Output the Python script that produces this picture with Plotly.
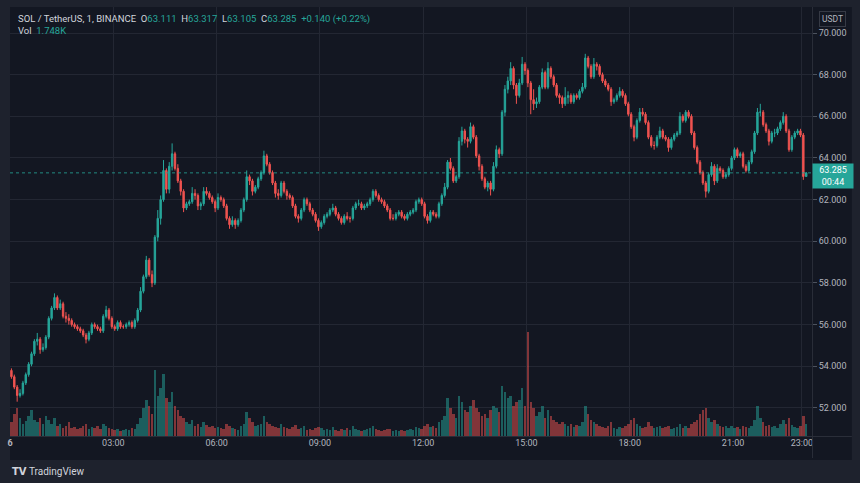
import plotly.graph_objects as go

# ---------------- data (5-minute buckets) ----------------
first_open = 53.8
closes = [
    53.5, 53.0, 52.6, 52.7, 53.2, 53.6, 54.1, 54.6, 55.2, 55.3, 54.8, 54.9,
    55.4, 56.3, 56.8, 57.3, 56.8, 57.0, 56.4, 56.3, 56.2, 56.0, 55.9, 55.8,
    55.7, 55.5, 55.3, 55.6, 56.0, 55.9, 55.8, 55.7, 56.4, 56.7, 56.3, 55.9,
    55.8, 56.1, 55.9, 55.9, 56.0, 56.1, 55.9, 56.2, 56.7, 57.6, 58.3, 59.1,
    58.4, 58.0, 60.2, 61.1, 62.0, 63.4, 62.5, 63.6, 64.2, 63.5, 62.9, 62.4,
    61.6, 61.8, 61.9, 62.3, 62.2, 61.7, 61.8, 62.4, 62.3, 62.1, 61.9, 61.6,
    62.1, 62.0, 61.7, 61.1, 60.8, 61.0, 60.8, 61.0, 61.5, 62.0, 63.1, 62.9,
    62.4, 62.6, 63.0, 63.3, 64.1, 63.7, 63.3, 62.8, 62.3, 62.2, 62.8, 62.4,
    62.2, 62.1, 61.7, 61.2, 61.1, 61.5, 62.0, 61.8, 61.5, 61.3, 61.0, 60.7,
    60.9, 61.2, 61.3, 61.5, 61.6, 61.3, 61.1, 60.9, 61.2, 61.1, 61.1, 61.6,
    61.8, 61.8, 61.6, 61.7, 61.8, 62.0, 62.4, 62.2, 62.0, 61.9, 61.7, 61.5,
    61.1, 61.1, 61.3, 61.4, 61.2, 61.1, 61.3, 61.4, 61.5, 61.9, 62.0, 61.8,
    61.2, 61.0, 61.4, 61.3, 61.2, 61.8, 62.2, 62.6, 63.8, 63.5, 62.9, 63.1,
    64.8, 65.3, 64.9, 64.8, 65.5, 65.0, 64.1, 63.6, 63.0, 62.6, 62.8, 62.5,
    63.6, 64.4, 64.2, 66.2, 67.3, 67.7, 68.3, 67.5, 67.0, 67.6, 68.5, 68.2,
    67.6, 66.8, 66.6, 66.7, 67.4, 68.1, 67.4, 68.3, 67.9, 67.5, 67.0, 66.9,
    66.6, 66.9, 67.0, 66.7, 67.0, 66.9, 67.2, 67.4, 68.8, 68.4, 67.9, 68.5,
    68.4, 68.0, 67.7, 67.5, 67.3, 66.7, 66.8, 67.0, 67.2, 67.0, 66.6, 66.1,
    65.5, 65.0, 65.8, 66.2, 66.1, 65.7, 65.0, 64.6, 64.6, 65.0, 65.3, 65.0,
    64.9, 64.5, 64.9, 65.1, 65.2, 66.0, 65.8, 66.2, 66.0, 65.2, 64.5, 63.8,
    63.3, 62.8, 62.4, 63.2, 63.6, 62.9, 63.5, 63.4, 63.1, 63.2, 63.5, 64.0,
    64.4, 64.1, 64.2, 63.6, 63.4, 63.8, 64.3, 65.2, 66.2, 66.2, 65.6, 65.3,
    64.8, 65.2, 65.2, 65.4, 65.7, 66.0, 65.3, 64.4, 65.0, 65.2, 65.3, 65.1,
    63.111, 63.285,
]
highs = [
    53.9, 53.6, 53.1, 52.9, 53.3, 53.7, 54.2, 54.7, 55.3, 55.6, 55.4, 55.1,
    55.5, 56.4, 56.9, 57.5, 57.4, 57.2, 57.1, 56.6, 56.5, 56.3, 56.1, 56.0,
    55.9, 55.8, 55.6, 55.7, 56.1, 56.1, 56.0, 55.9, 56.5, 56.9, 56.8, 56.4,
    56.0, 56.2, 56.2, 56.0, 56.1, 56.2, 56.2, 56.3, 56.8, 57.8, 58.4, 59.3,
    59.2, 58.6, 60.3, 61.5, 62.2, 63.9, 63.5, 63.8, 64.7, 64.3, 63.7, 63.0,
    62.5, 61.9, 62.0, 62.6, 62.5, 62.3, 61.9, 62.6, 62.6, 62.4, 62.2, 62.0,
    62.3, 62.2, 62.1, 61.8, 61.2, 61.2, 61.1, 61.1, 61.6, 62.1, 63.4, 63.2,
    63.0, 62.7, 63.1, 63.4, 64.35, 64.2, 63.8, 63.4, 62.9, 62.5, 62.9, 62.9,
    62.5, 62.3, 62.2, 61.8, 61.3, 61.6, 62.1, 62.1, 61.9, 61.6, 61.4, 61.1,
    61.0, 61.3, 61.4, 61.6, 61.8, 61.7, 61.4, 61.2, 61.3, 61.4, 61.2, 61.7,
    61.9, 62.0, 61.9, 61.8, 61.9, 62.1, 62.5, 62.5, 62.3, 62.1, 62.0, 61.8,
    61.6, 61.3, 61.4, 61.5, 61.5, 61.3, 61.4, 61.5, 61.6, 62.0, 62.1, 62.1,
    61.9, 61.3, 61.5, 61.5, 61.4, 61.9, 62.3, 62.8, 63.9, 64.0, 63.6, 63.2,
    65.0, 65.5, 65.4, 65.0, 65.7, 65.6, 65.1, 64.2, 63.7, 63.1, 62.9, 62.9,
    63.8, 64.6, 64.5, 66.3, 67.5, 67.9, 68.6, 68.4, 67.6, 67.8, 68.85, 68.6,
    68.3, 67.7, 67.3, 66.9, 67.5, 68.3, 68.2, 68.6, 68.4, 68.0, 67.6, 67.1,
    67.0, 67.4, 67.2, 67.1, 67.1, 67.1, 67.3, 67.6, 69.0, 68.9, 68.5, 68.8,
    68.6, 68.5, 68.1, 67.8, 67.6, 67.4, 66.9, 67.1, 67.4, 67.3, 67.1, 66.7,
    66.2, 65.6, 65.9, 66.4, 66.4, 66.2, 65.8, 65.1, 64.8, 65.1, 65.5, 65.4,
    65.1, 65.0, 65.0, 65.2, 65.3, 66.2, 66.1, 66.3, 66.3, 66.1, 65.3, 64.6,
    63.9, 63.4, 62.9, 63.3, 63.8, 63.7, 63.7, 63.6, 63.5, 63.3, 63.6, 64.1,
    64.5, 64.5, 64.3, 64.3, 63.7, 63.9, 64.4, 65.3, 66.4, 66.6, 66.3, 65.7,
    65.4, 65.3, 65.4, 65.5, 65.8, 66.2, 66.1, 65.4, 65.1, 65.3, 65.4, 65.4,
    65.2, 63.317,
]
lows = [
    53.4, 52.9, 52.3, 52.5, 52.6, 53.1, 53.5, 54.0, 54.5, 55.0, 54.6, 54.7,
    54.8, 55.3, 56.2, 56.7, 56.7, 56.7, 56.3, 56.1, 56.0, 55.9, 55.8, 55.7,
    55.6, 55.4, 55.1, 55.2, 55.5, 55.8, 55.7, 55.6, 55.6, 56.3, 56.2, 55.8,
    55.7, 55.7, 55.8, 55.8, 55.8, 55.9, 55.8, 55.8, 56.1, 56.6, 57.5, 58.2,
    58.3, 57.8, 57.9, 60.0, 60.8, 61.9, 62.3, 62.3, 63.4, 63.4, 62.8, 62.2,
    61.4, 61.5, 61.7, 61.8, 62.0, 61.5, 61.5, 61.7, 62.2, 62.0, 61.8, 61.4,
    61.5, 61.9, 61.6, 61.0, 60.6, 60.7, 60.6, 60.7, 60.9, 61.4, 61.9, 62.7,
    62.2, 62.3, 62.5, 62.9, 63.2, 63.6, 63.2, 62.7, 62.1, 62.0, 62.1, 62.3,
    62.0, 62.0, 61.6, 61.1, 60.9, 61.0, 61.4, 61.7, 61.4, 61.2, 60.9, 60.5,
    60.6, 60.8, 61.1, 61.2, 61.4, 61.2, 61.0, 60.8, 60.8, 61.0, 60.9, 61.0,
    61.5, 61.7, 61.5, 61.5, 61.6, 61.7, 61.9, 62.1, 61.9, 61.8, 61.6, 61.4,
    61.0, 61.0, 61.0, 61.2, 61.1, 61.0, 61.0, 61.2, 61.3, 61.4, 61.8, 61.7,
    61.1, 60.85, 60.9, 61.2, 61.1, 61.1, 61.7, 62.1, 62.5, 63.4, 62.8, 62.8,
    63.0, 64.6, 64.7, 64.5, 64.7, 64.9, 64.0, 63.4, 62.9, 62.5, 62.4, 62.2,
    62.4, 63.5, 64.0, 64.1, 66.0, 67.1, 67.5, 67.3, 66.6, 66.9, 67.5, 68.0,
    67.4, 66.1, 66.3, 66.4, 66.6, 67.3, 67.3, 67.3, 67.8, 67.4, 66.9, 66.6,
    66.4, 66.5, 66.6, 66.6, 66.6, 66.8, 66.8, 67.1, 67.3, 68.3, 67.8, 67.8,
    68.2, 67.9, 67.6, 67.4, 67.2, 66.5, 66.6, 66.7, 66.9, 66.9, 66.5, 66.0,
    65.4, 64.8, 64.9, 65.7, 66.0, 65.6, 64.9, 64.5, 64.4, 64.5, 64.9, 64.9,
    64.8, 64.3, 64.4, 64.8, 65.0, 65.1, 65.7, 65.7, 65.9, 65.1, 64.4, 63.7,
    63.2, 62.7, 62.1, 62.3, 63.1, 62.7, 62.8, 63.3, 63.0, 63.0, 63.1, 63.4,
    63.9, 64.0, 64.0, 63.5, 63.3, 63.3, 63.7, 64.2, 65.1, 66.0, 65.5, 65.2,
    64.6, 64.7, 65.0, 65.1, 65.3, 65.6, 65.2, 64.3, 64.3, 64.9, 65.1, 65.0,
    62.95, 63.105,
]
volumes = [
    14, 22, 28, 18, 12, 15, 20, 26, 16, 14, 18, 12,
    20, 16, 12, 18, 10, 12, 8, 10, 14, 8, 9, 7,
    8, 10, 12, 7, 9, 8, 10, 7, 12, 10, 8, 7,
    6, 7, 5, 6, 7, 6, 8, 7, 12, 18, 28, 36,
    30, 22, 66, 40, 48, 62, 38, 34, 44, 30, 26, 20,
    18, 14, 12, 16, 10, 12, 9, 14, 11, 9, 10, 8,
    9, 8, 7, 12, 10, 8, 7, 6, 10, 12, 24, 18,
    14, 10, 11, 12, 20, 14, 12, 10, 9, 8, 12, 9,
    8, 7, 9, 11, 7, 8, 10, 6, 7, 6, 8, 9,
    8, 6, 7, 6, 9, 6, 5, 7, 6, 8, 6, 10,
    7, 6, 5, 6, 7, 8, 10, 7, 6, 5, 6, 7,
    7, 5, 6, 5, 6, 5, 6, 7, 6, 9, 8, 7,
    10, 12, 9, 10, 8, 14, 16, 20, 38, 28, 22, 18,
    40, 34, 26, 24, 30, 36, 28, 24, 20, 22, 18, 26,
    30, 28, 24, 50, 44, 38, 40, 30, 34, 36, 48, 30,
    104, 34, 28, 20, 24, 30, 18, 26, 20, 16, 14, 12,
    14, 12, 10, 12, 9, 11, 10, 14, 30, 22, 16, 14,
    12, 10, 9, 8, 10, 14, 8, 7, 9, 8, 10, 12,
    16, 18, 12, 10, 8, 9, 14, 10, 8, 9, 10, 8,
    9, 10, 7, 8, 9, 12, 8, 10, 8, 12, 14, 16,
    22, 26, 28, 18, 14, 16, 12, 10, 9, 10, 8, 10,
    8, 9, 7, 10, 9, 8, 10, 16, 30, 18, 14, 10,
    11, 9, 10, 8, 12, 16, 12, 18, 11, 9, 8, 10,
    20, 12,
]
tick_minutes = [0, 180, 360, 540, 720, 900, 1080, 1260, 1380]
tick_text = ["<b>6</b>", "03:00", "06:00", "09:00", "12:00", "15:00", "18:00", "21:00", "23:00"]
price_ticks = [52, 54, 56, 58, 60, 62, 64, 66, 68, 70]
last_price = 63.285

# ---------------- derived ----------------
opens = [first_open] + closes[:-1]
minutes = [2.5 + 5 * i for i in range(len(closes))]

UP = "#26a69a"
DN = "#ef5350"
vol_colors = ["rgba(38,166,154,0.5)" if c >= o else "rgba(239,83,80,0.5)" for o, c in zip(opens, closes)]

FONT = "Roboto, Noto Sans, sans-serif"
TXT = "#b2b5be"
GRID = "#232733"
BORDER = "#2a2e39"

fig = go.Figure()
fig.add_trace(go.Bar(
    x=minutes, y=volumes, marker=dict(color=vol_colors, line=dict(width=0)),
    width=4.4, yaxis="y", showlegend=False, hoverinfo="skip",
))
fig.add_trace(go.Candlestick(
    x=minutes, open=opens, high=highs, low=lows, close=closes,
    yaxis="y2", whiskerwidth=0, showlegend=False,
    increasing=dict(line=dict(color=UP, width=1), fillcolor=UP),
    decreasing=dict(line=dict(color=DN, width=1), fillcolor=DN),
))

W, H = 860, 483
L, R, T, B = 7, 48, 7, 47
pw, ph = W - L - R, H - T - B


def px(x):
    return (x - L) / pw


def py(y):
    return (H - B - y) / ph


shapes = [
    dict(type="rect", xref="paper", yref="paper", x0=px(7), x1=px(852), y0=py(460), y1=py(7),
         fillcolor="#131722", line=dict(width=0), layer="below"),
    dict(type="line", xref="paper", yref="paper", x0=px(812.5), x1=px(812.5), y0=py(458), y1=py(7),
         line=dict(color=BORDER, width=1)),
    dict(type="line", xref="paper", yref="paper", x0=px(7), x1=px(852), y0=py(436.5), y1=py(436.5),
         line=dict(color=BORDER, width=1)),
    dict(type="line", xref="paper", yref="y2", x0=0, x1=1, y0=last_price, y1=last_price,
         line=dict(color="rgba(38,166,154,0.8)", width=1, dash="dot")),
]

num = lambda s: f"<span style='color:{UP}'>{s}</span>"
sp = "\u00a0\u00a0"
legend1 = ("SOL / TetherUS, 1, BINANCE" + sp + "O" + num("63.111") + sp + "H" + num("63.317") + sp +
           "L" + num("63.105") + sp + "C" + num("63.285") + sp + num("+0.140 (+0.22%)"))
legend2 = "Vol" + sp + num("1.748K")

annotations = [
    dict(xref="paper", yref="paper", x=px(13), y=py(18.5), xanchor="left", yanchor="middle",
         text=legend1, showarrow=False, font=dict(family=FONT, size=9.5, color="#d1d4dc")),
    dict(xref="paper", yref="paper", x=px(13), y=py(31), xanchor="left", yanchor="middle",
         text=legend2, showarrow=False, font=dict(family=FONT, size=9.5, color="#d1d4dc")),
    dict(xref="paper", yref="y2", x=1, y=last_price, xanchor="left", yanchor="top", yshift=10,
         text="63.285<br>00:44", showarrow=False, align="center", width=36, height=20, borderpad=2,
         bgcolor=UP, font=dict(family=FONT, size=9, color="#ffffff")),
    dict(xref="paper", yref="paper", x=px(833), y=py(18.5), xanchor="center", yanchor="middle",
         text="USDT", showarrow=False, bgcolor="#131722", bordercolor="#363a45", borderwidth=1,
         borderpad=2, font=dict(family=FONT, size=8.5, color=TXT)),
    dict(xref="paper", yref="paper", x=px(7), y=py(471), xanchor="left", yanchor="middle",
         text="<b>TV</b>", showarrow=False, font=dict(family="DejaVu Sans", size=10, color="#d1d4dc")),
    dict(xref="paper", yref="paper", x=px(24), y=py(471), xanchor="left", yanchor="middle",
         text="TradingView", showarrow=False, font=dict(family=FONT, size=10, color="#d1d4dc")),
]

fig.update_layout(
    width=W, height=H, margin=dict(l=L, r=R, t=T, b=B),
    paper_bgcolor="#1e222d", plot_bgcolor="#131722",
    font=dict(family=FONT, size=9, color=TXT),
    bargap=0, showlegend=False, hovermode=False,
    xaxis=dict(range=[0, 1397.6], tickmode="array", tickvals=tick_minutes, ticktext=tick_text,
               showgrid=True, gridcolor=GRID, gridwidth=1, zeroline=False, showline=False,
               ticks="", tickfont=dict(family=FONT, size=9, color=TXT), rangeslider=dict(visible=False),
               fixedrange=True),
    yaxis=dict(range=[0, ph], visible=False, showgrid=False, zeroline=False, fixedrange=True),
    yaxis2=dict(overlaying="y", side="right", range=[50.653, 71.248], tickmode="array",
                tickvals=price_ticks, tickformat=".3f", showgrid=True, gridcolor=GRID, gridwidth=1,
                zeroline=False, showline=False, ticks="outside", ticklen=4, tickcolor="#4c525e",
                tickfont=dict(family=FONT, size=9, color=TXT), fixedrange=True),
    shapes=shapes, annotations=annotations,
)

fig.write_html(
    "out.html",
    config={"displayModeBar": False},
    post_script="document.body.style.margin='0';document.body.style.background='#1e222d';",
)
